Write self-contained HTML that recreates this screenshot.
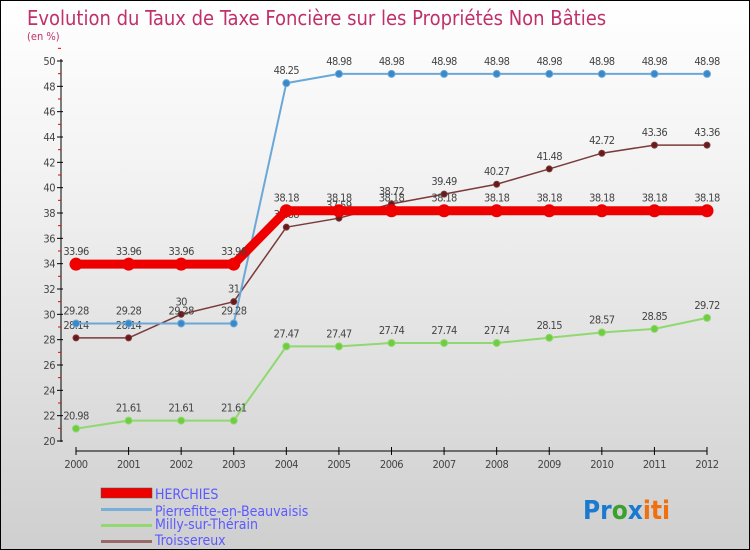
<!DOCTYPE html>
<html><head><meta charset="utf-8"><style>
body{margin:0;}
#c{width:750px;height:550px;position:relative;box-sizing:border-box;border:1px solid #000;background:linear-gradient(#fff,#f3f3f3 30%,#cfcfcf);font-family:"DejaVu Sans Condensed","Liberation Sans",sans-serif;overflow:hidden}
svg text{font-family:"DejaVu Sans Condensed","Liberation Sans",sans-serif}
</style></head><body>
<div id="c">
<svg id="s" width="750" height="550" xmlns="http://www.w3.org/2000/svg">
<text x="26" y="24" font-size="20" fill="#c0306a">Evolution du Taux de Taxe Foncière sur les Propriétés Non Bâties</text>
<text x="26" y="39" font-size="11" fill="#c0306a">(en %)</text>
<g id="axes"></g><g id="series"></g>
<g>
<rect x="100" y="487" width="51" height="10" fill="#e00" stroke="#555" stroke-width="0.5"/>
<text x="154" y="498" font-size="14" fill="#5a5aff">HERCHIES</text>
<rect x="100" y="507" width="51" height="3" fill="#7ab0d8"/>
<text x="154" y="515" font-size="14" fill="#5a5aff">Pierrefitte-en-Beauvaisis</text>
<rect x="100" y="523" width="51" height="3" fill="#90d870"/>
<text x="154" y="528" font-size="14" fill="#5a5aff">Milly-sur-Thérain</text>
<rect x="100" y="539" width="51" height="3" fill="#9a6868"/>
<text x="154" y="544" font-size="14" fill="#5a5aff">Troissereux</text>
</g>
<text x="582" y="518" font-size="26" font-weight="bold"><tspan fill="#1a7ad0">Pr</tspan><tspan fill="#3aa030">o</tspan><tspan fill="#1a7ad0">x</tspan><tspan fill="#f07010">iti</tspan></text>
</svg>
</div>
<script>
const years=[2000,2001,2002,2003,2004,2005,2006,2007,2008,2009,2010,2011,2012];
const yTicks=[20,22,24,26,28,30,32,34,36,38,40,42,44,46,48,50];
const herchies=[33.96,33.96,33.96,33.96,38.18,38.18,38.18,38.18,38.18,38.18,38.18,38.18,38.18];
const pierrefitte=[29.28,29.28,29.28,29.28,48.25,48.98,48.98,48.98,48.98,48.98,48.98,48.98,48.98];
const milly=[20.98,21.61,21.61,21.61,27.47,27.47,27.74,27.74,27.74,28.15,28.57,28.85,29.72];
const troissereux=[28.14,28.14,30,31,36.88,37.59,38.72,39.49,40.27,41.48,42.72,43.36,43.36];
const NS="http://www.w3.org/2000/svg";
const X=i=>75+i*(706-75)/12;
const Y=v=>440-(v-20)*(380/30);
function mk(t,a,p){const e=document.createElementNS(NS,t);for(const k in a)e.setAttribute(k,a[k]);p.appendChild(e);return e;}
const ax=document.getElementById('axes');
let yl=mk('line',{x1:60,y1:58,x2:60,y2:441,stroke:'#000','stroke-width':1},ax);


yTicks.forEach(v=>{
 mk('line',{x1:56,y1:Y(v),x2:62,y2:Y(v),stroke:'#000'},ax);
 mk('line',{x1:57,y1:Y(v+1),x2:60,y2:Y(v+1),stroke:'#e00'},ax);
 const t=mk('text',{x:54,y:Y(v)+4,'font-size':11,fill:'#444','text-anchor':'end','letter-spacing':'-0.5'},ax);t.textContent=v;
 
 
});
let xl=mk('line',{x1:75,y1:450,x2:706,y2:450,stroke:'#000'},ax);


years.forEach((y,i)=>{
 mk('line',{x1:X(i),y1:446,x2:X(i),y2:454,stroke:'#000'},ax);
 const t=mk('text',{x:X(i),y:467,'font-size':11,fill:'#444','text-anchor':'middle','letter-spacing':'-0.5'},ax);t.textContent=y;
 
 
});
const sg=document.getElementById('series');
function series(name,vals,color,dot,w,r,dy){
 const g=mk('g',{},sg);
 
 
 const pl=mk('polyline',{points:vals.map((v,i)=>X(i)+','+Y(v)).join(' '),fill:'none',stroke:color,'stroke-width':w,'stroke-linejoin':'round'},g);
 
 
 vals.forEach((v,i)=>{
  const c=mk('circle',{cx:X(i),cy:Y(v),r:r,fill:dot,stroke:color,'stroke-width':1},g);
  
  
  const t=mk('text',{x:X(i),y:Y(v)+dy,'font-size':11,fill:'#444','text-anchor':'middle','letter-spacing':'-0.6'},g);t.textContent=v;
  
  
 });
}
series('milly',milly,'#90d870','#70cc40',2,3.5,-9);
series('troissereux',troissereux,'#7a3a3a','#6a1a1a',1.5,3,-9);
series('pierrefitte',pierrefitte,'#6aa8d8','#3a88c8',2,3.5,-9);
series('herchies',herchies,'#e00','#e00',9,6,-9);
</script>
</body></html>
